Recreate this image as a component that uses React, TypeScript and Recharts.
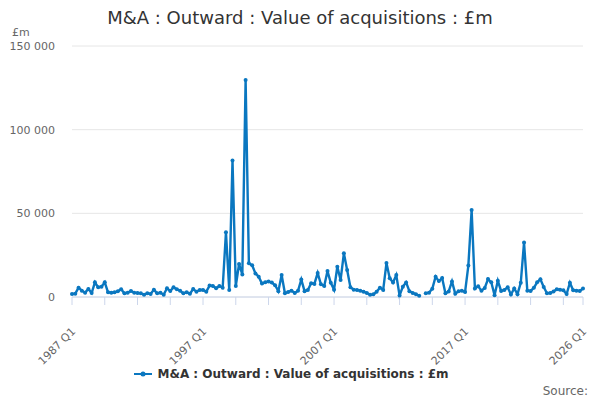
import React from 'react';
import { LineChart, Line, XAxis, YAxis, CartesianGrid, Legend } from 'recharts';

const START_YEAR = 1987;
const END_YEAR = 2026;

// quarterly categories, 1987 Q1 .. 2026 Q1
const QUARTERS: string[] = [];
for (let y = START_YEAR; y <= END_YEAR; y++) {
  for (let q = 1; q <= 4; q++) {
    if (y === END_YEAR && q > 1) break;
    QUARTERS.push(`${y} Q${q}`);
  }
}

// £m
const VALUES: (number | null)[] = [
  1800, 2000, 5600, 3800, 2600, 4800, 2400, 8800, 5800, 6200,
  8800, 2800, 2600, 2800, 3400, 4600, 2200, 2600, 3600, 2600,
  2400, 2200, 1400, 2200, 1800, 4400, 2200, 2600, 1400, 5200,
  3600, 5800, 4600, 3800, 2200, 2800, 2000, 4800, 3200, 4200,
  4200, 3200, 6800, 6600, 5200, 6600, 5600, 38700, 4200, 81500,
  6600, 19700, 13500, 129700, 20100, 18900, 14100, 12100, 8000, 8800,
  9200, 8600, 7000, 3500, 13100, 2200, 3000, 3800, 2400, 3700,
  10400, 3500, 4200, 8200, 7800, 14300, 7600, 6600, 15500, 8500,
  4400, 18100, 10200, 26100, 16100, 5800, 4400, 4200, 3800, 3200,
  2400, 1400, 1600, 3200, 5600, 4200, 20300, 11200, 8700, 13100,
  900, 6200, 8700, 3500, 2400, 1700, 700, null, 2200, 2600,
  5000, 12100, 9500, 11300, 2200, 3300, 9300, 2000, 3400, 3800,
  3000, 18800, 52000, 5100, 6400, 3800, 5400, 10700, 8800, 1100,
  9700, 3600, 4200, 5800, 1500, 5100, 1700, 8500, 32500, 3800,
  3600, 5500, 8800, 10600, 6000, 2200, 2400, 3300, 4600, 4400,
  4000, 1800, 8500, 4000, 3800, 3600, 5100,
];

const X_TICKS = QUARTERS.filter((_, i) => i % 10 === 0 || i === QUARTERS.length - 1);
const X_LABELS = ['1987 Q1', '1997 Q1', '2007 Q1', '2017 Q1', '2026 Q1'];
const Y_TICKS = [0, 50000, 100000, 150000];

const SERIES_NAME = 'M&A : Outward : Value of acquisitions : £m';
const LINE_COLOR = '#0a77c0';
const FONT = "'DejaVu Sans', sans-serif";

const data = QUARTERS.map((q, i) => ({ quarter: q, value: VALUES[i] }));

const fmtThousands = (v: number) => String(v).replace(/\B(?=(\d{3})+(?!\d))/g, ' ');

const XTick = ({ x, y, payload }: any) => {
  if (!X_LABELS.includes(payload.value)) return <g />;
  const tx = x + 2;
  const ty = y + 23;
  return (
    <text
      x={tx}
      y={ty}
      textAnchor="end"
      dominantBaseline="middle"
      transform={`rotate(-45 ${tx} ${ty})`}
      fill="#666666"
      fontSize={11}
      fontFamily={FONT}
    >
      {payload.value}
    </text>
  );
};

const LegendContent = () => (
  <div style={{ display: 'flex', justifyContent: 'center', alignItems: 'center', fontFamily: FONT }}>
    <svg width={18} height={12} style={{ marginRight: 5 }}>
      <line x1={0} y1={6} x2={18} y2={6} stroke={LINE_COLOR} strokeWidth={2} />
      <circle cx={9} cy={6} r={2.5} fill={LINE_COLOR} />
    </svg>
    <span style={{ fontSize: 12, fontWeight: 'bold', color: '#333333' }}>{SERIES_NAME}</span>
  </div>
);

export default function App() {
  return (
    <div style={{ position: 'absolute', left: 0, top: 0, width: 600, height: 400, background: '#fff', fontFamily: FONT }}>
      <div style={{ position: 'absolute', top: 7, width: 600, textAlign: 'center', fontSize: 18, color: '#333333' }}>
        {SERIES_NAME}
      </div>
      <div style={{ position: 'absolute', top: 26, left: 12, fontSize: 11, color: '#666666' }}>£m</div>
      <LineChart width={600} height={400} data={data} margin={{ top: 46, right: 17, bottom: 23, left: 0 }}>
        <CartesianGrid horizontal vertical={false} stroke="#e6e6e6" />
        <XAxis
          dataKey="quarter"
          ticks={X_TICKS}
          interval={0}
          height={60}
          tickSize={8}
          stroke="#ccd6eb"
          tickLine={{ stroke: '#ccd6eb' }}
          axisLine={{ stroke: '#ccd6eb' }}
          tick={<XTick />}
        />
        <YAxis
          domain={[0, 150000]}
          ticks={Y_TICKS}
          width={72}
          axisLine={false}
          tickLine={false}
          tickSize={0}
          tickMargin={17}
          tickFormatter={fmtThousands}
          tick={{ fill: '#666666', fontSize: 11, fontFamily: FONT }}
        />
        <Legend verticalAlign="bottom" height={20} content={<LegendContent />} wrapperStyle={{ bottom: 13 }} />
        <Line
          type="linear"
          dataKey="value"
          name={SERIES_NAME}
          stroke={LINE_COLOR}
          strokeWidth={2.4}
          dot={{ r: 2, fill: LINE_COLOR, stroke: LINE_COLOR, strokeWidth: 0 }}
          connectNulls={false}
          isAnimationActive={false}
        />
      </LineChart>
      <div style={{ position: 'absolute', right: 12, top: 384, fontSize: 12, color: '#666666' }}>Source:</div>
    </div>
  );
}
